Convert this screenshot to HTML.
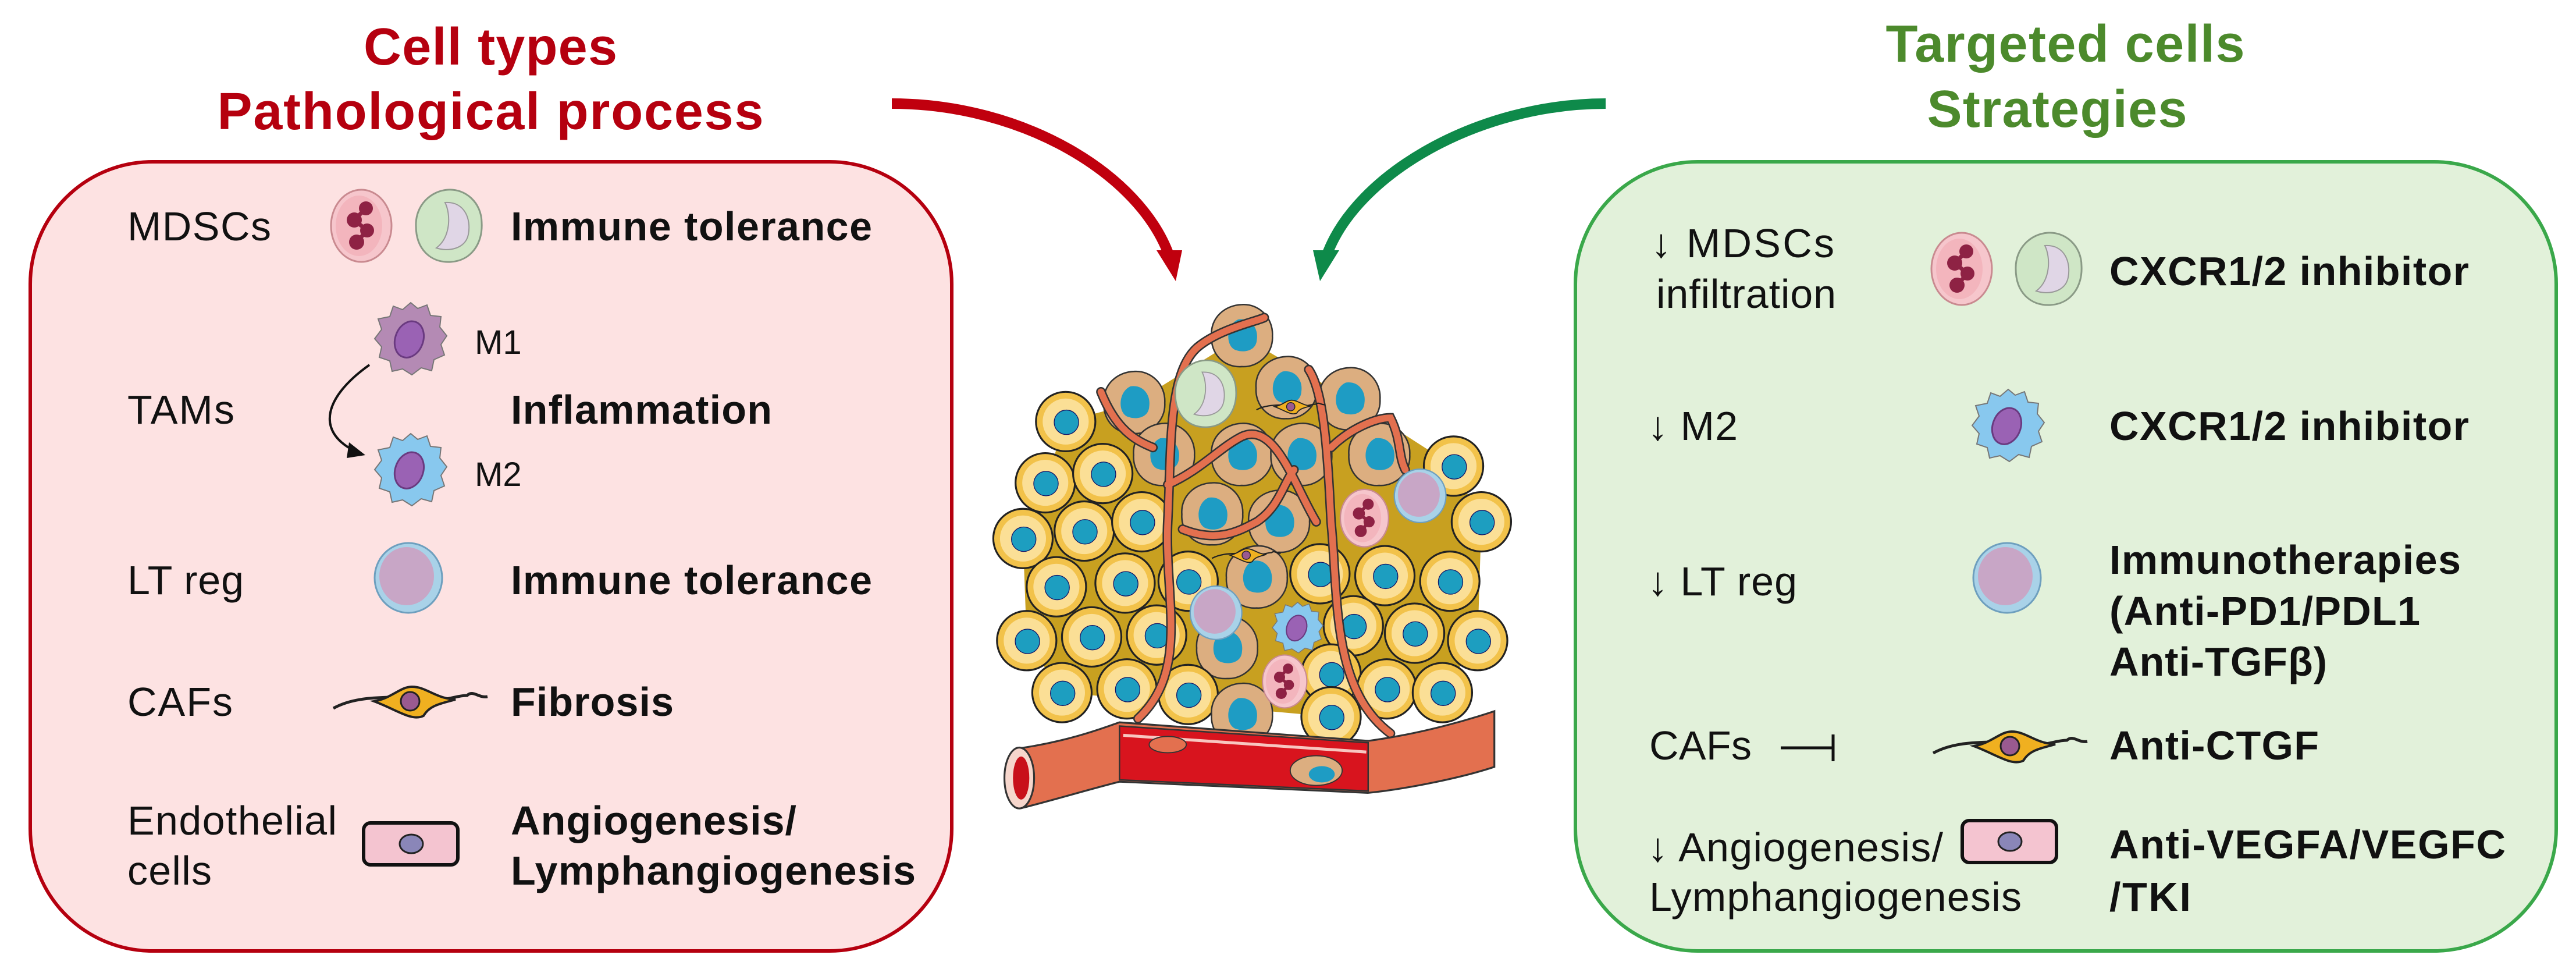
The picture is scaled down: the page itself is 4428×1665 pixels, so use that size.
<!DOCTYPE html>
<html><head><meta charset="utf-8"><style>
html,body{margin:0;padding:0;background:#fff;}
svg{display:block;}
text{font-family:"Liberation Sans",Arial,sans-serif;}
.n{font-size:70px;fill:#111;}
.b{font-size:70px;font-weight:bold;fill:#111;}
</style></head><body>
<svg width="4428" height="1665" viewBox="0 0 4428 1665" xmlns="http://www.w3.org/2000/svg">
<defs>
  <g id="neut">
    <ellipse cx="0" cy="0" rx="52" ry="62" fill="#f6c6cc" stroke="#c98a90" stroke-width="3"/>
    <ellipse cx="-4" cy="0" rx="40" ry="52" fill="#f3b5bd"/>
    <circle cx="8" cy="-30" r="12" fill="#8e2244"/><circle cx="-12" cy="-10" r="13" fill="#8e2244"/>
    <circle cx="10" cy="8" r="12" fill="#8e2244"/><circle cx="-8" cy="28" r="13" fill="#8e2244"/>
    <path d="M8,-30 L-12,-10 L10,8 L-8,28" stroke="#8e2244" stroke-width="7" fill="none"/>
  </g>
  <g id="mono">
    <path d="M0,-62 C30,-64 58,-40 58,-5 C60,30 40,60 5,62 C-30,64 -55,40 -55,0 C-56,-35 -30,-60 0,-62Z" fill="#cfe6c6" stroke="#8a9a86" stroke-width="3"/>
    <path d="M-5,-40 C30,-42 40,-10 35,15 C30,40 0,45 -20,38 C5,20 5,-20 -5,-40Z" fill="#e0d6e6" stroke="#999" stroke-width="2"/>
  </g>
  <g id="mac">
    <path d="M0,-62 L12,-52 L28,-58 L34,-40 L52,-38 L50,-20 L62,-5 L52,10 L58,28 L40,36 L36,55 L18,50 L2,62 L-14,52 L-32,56 L-36,38 L-54,32 L-50,14 L-62,0 L-50,-16 L-56,-34 L-36,-38 L-30,-56 L-14,-50Z" stroke="#777" stroke-width="2"/>
    <ellipse cx="-2" cy="2" rx="24" ry="32" transform="rotate(20)" fill="#9a62b4" stroke="#6a3a80" stroke-width="3"/>
  </g>
  <g id="treg">
    <ellipse cx="0" cy="0" rx="58" ry="60" fill="#a9d2e8" stroke="#6e9fbe" stroke-width="3"/>
    <ellipse cx="-3" cy="-3" rx="47" ry="50" fill="#c8a6c6"/>
  </g>
  <g id="caf">
    <path d="M-130,12 C-90,-10 -40,-5 -20,-8 C0,-25 25,-25 45,-5 C65,0 80,-10 100,-10 C110,-20 120,-5 135,-8" stroke="#222" stroke-width="5" fill="none"/>
    <path d="M-60,0 C-30,-5 -15,-25 5,-25 C30,-25 45,-5 80,-3 C50,5 35,8 25,25 C5,35 -20,15 -60,0Z" fill="#f0b020" stroke="#222" stroke-width="4"/>
    <circle cx="2" cy="0" r="16" fill="#9a5a90" stroke="#222" stroke-width="3"/>
  </g>
  <g id="endo">
    <rect x="-80" y="-36" width="162" height="72" rx="12" fill="#f4c4d0" stroke="#111" stroke-width="6"/>
    <ellipse cx="2" cy="0" rx="20" ry="16" fill="#8a86b8" stroke="#222" stroke-width="3"/>
  </g>
  <g id="ycell">
    <circle r="80" fill="#f2c24a" stroke="#222" stroke-width="5"/>
    <circle r="62" fill="#fbdf96"/>
    <circle cx="2" cy="2" r="33" fill="#1d9ec0" stroke="#116" stroke-width="2"/>
  </g>
  <g id="bcell">
    <path d="M0,-85 C45,-88 85,-50 82,0 C85,50 40,85 0,82 C-50,86 -85,45 -82,0 C-86,-50 -45,-84 0,-85Z" fill="#dcae80" stroke="#333" stroke-width="4"/>
    <path d="M-10,-45 C25,-50 45,-20 40,10 C38,40 5,45 -15,38 C-45,30 -45,-30 -10,-45Z" fill="#1e9cc4"/>
  </g>
</defs>

<!-- Titles -->
<text x="843" y="111" text-anchor="middle" font-size="90" font-weight="bold" fill="#b5000f" textLength="436">Cell types</text>
<text x="843" y="222" text-anchor="middle" font-size="90" font-weight="bold" fill="#b5000f" textLength="939">Pathological process</text>
<text x="3550" y="106" text-anchor="middle" font-size="90" font-weight="bold" fill="#4c8a2c" textLength="617">Targeted cells</text>
<text x="3536" y="218" text-anchor="middle" font-size="90" font-weight="bold" fill="#4c8a2c" textLength="447">Strategies</text>

<!-- Boxes -->
<rect x="52" y="278" width="1584" height="1356" rx="210" fill="#fde2e2" stroke="#b5000f" stroke-width="6"/>
<rect x="2708" y="278" width="1686" height="1356" rx="210" fill="#e2f1da" stroke="#3aa84a" stroke-width="6"/>

<!-- Arrows -->
<path d="M1533,178 C1760,178 1960,300 2010,440" stroke="#c0000e" stroke-width="18" fill="none"/>
<polygon points="1988,430 2032,430 2021,483" fill="#c0000e"/>
<path d="M2760,178 C2540,178 2330,300 2280,440" stroke="#0e8a4a" stroke-width="18" fill="none"/>
<polygon points="2257,430 2302,430 2269,483" fill="#0e8a4a"/>

<!-- Left content -->
<text class="n" x="219" y="413" textLength="247">MDSCs</text>
<use href="#neut" x="621" y="388"/>
<use href="#mono" x="770" y="388"/>
<text class="b" x="878" y="413" textLength="621">Immune tolerance</text>

<use href="#mac" x="706" y="582" fill="#b48ab4"/>
<text x="816" y="608" font-size="58" fill="#111">M1</text>
<text class="n" x="219" y="728" textLength="184">TAMs</text>
<path d="M635,627 C560,680 540,740 610,775" stroke="#111" stroke-width="4" fill="none"/>
<polygon points="600,760 628,782 596,787" fill="#111"/>
<text class="b" x="878" y="728" textLength="449">Inflammation</text>
<use href="#mac" x="706" y="807" fill="#88c8ee"/>
<text x="816" y="835" font-size="58" fill="#111">M2</text>

<text class="n" x="219" y="1021" textLength="200">LT reg</text>
<use href="#treg" x="702" y="993"/>
<text class="b" x="878" y="1021" textLength="621">Immune tolerance</text>

<text class="n" x="219" y="1230" textLength="181">CAFs</text>
<use href="#caf" x="703" y="1205"/>
<text class="b" x="878" y="1230" textLength="280">Fibrosis</text>

<text class="n" x="219" y="1434" textLength="360">Endothelial</text>
<text class="n" x="219" y="1520" textLength="145">cells</text>
<use href="#endo" x="705" y="1450"/>
<text class="b" x="878" y="1434" textLength="491">Angiogenesis/</text>
<text class="b" x="878" y="1520" textLength="696">Lymphangiogenesis</text>

<!-- Right content -->
<text class="n" x="2838" y="442" textLength="315">↓ MDSCs</text>
<text class="n" x="2847" y="529" textLength="309">infiltration</text>
<use href="#neut" x="3372" y="462"/>
<use href="#mono" x="3520" y="462"/>
<text class="b" x="3626" y="490" textLength="618">CXCR1/2 inhibitor</text>

<text class="n" x="2832" y="756" textLength="155">↓ M2</text>
<use href="#mac" x="3452" y="731" fill="#88c8ee"/>
<text class="b" x="3626" y="756" textLength="618">CXCR1/2 inhibitor</text>

<text class="n" x="2832" y="1023" textLength="257">↓ LT reg</text>
<use href="#treg" x="3450" y="993"/>
<text class="b" x="3626" y="986" textLength="604">Immunotherapies</text>
<text class="b" x="3626" y="1074" textLength="534">(Anti-PD1/PDL1</text>
<text class="b" x="3626" y="1161" textLength="374">Anti-TGFβ)</text>

<text class="n" x="2835" y="1305" textLength="176">CAFs</text>
<path d="M3061,1285 L3151,1285 M3151,1262 L3151,1308" stroke="#111" stroke-width="5"/>
<use href="#caf" x="3453" y="1282"/>
<text class="b" x="3626" y="1305" textLength="360">Anti-CTGF</text>

<text class="n" x="2832" y="1480" textLength="508">↓ Angiogenesis/</text>
<text class="n" x="2835" y="1565" textLength="640">Lymphangiogenesis</text>
<use href="#endo" x="3453" y="1446"/>
<text class="b" x="3626" y="1475" textLength="681">Anti-VEGFA/VEGFC</text>
<text class="b" x="3626" y="1565" textLength="140">/TKI</text>

<!-- Tumor (drawn in zoom coords) -->
<g transform="translate(1650,450) scale(0.638)">
  <path d="M285,430 L470,380 L760,200 L1050,370 L1330,550 L1405,700 L1395,1020 L1300,1160 L1000,1225 L275,1160 L180,1020 L170,745 L230,595 Z" fill="#c8a020"/>
  <use href="#bcell" x="760" y="200"/><use href="#bcell" x="470" y="380"/><use href="#bcell" x="880" y="340"/>
  <use href="#bcell" x="1050" y="370"/><use href="#bcell" x="550" y="520"/><use href="#bcell" x="760" y="520"/>
  <use href="#bcell" x="920" y="520"/><use href="#bcell" x="1130" y="520"/><use href="#bcell" x="680" y="680"/>
  <use href="#bcell" x="860" y="700"/><use href="#bcell" x="800" y="850"/><use href="#bcell" x="720" y="1040"/>
  <use href="#ycell" x="285" y="430"/><use href="#ycell" x="230" y="595"/><use href="#ycell" x="385" y="570"/>
  <use href="#ycell" x="170" y="745"/><use href="#ycell" x="335" y="725"/><use href="#ycell" x="490" y="700"/>
  <use href="#ycell" x="260" y="875"/><use href="#ycell" x="445" y="865"/><use href="#ycell" x="615" y="860"/>
  <use href="#ycell" x="180" y="1020"/><use href="#ycell" x="355" y="1010"/><use href="#ycell" x="530" y="1005"/>
  <use href="#ycell" x="275" y="1160"/><use href="#ycell" x="450" y="1150"/><use href="#ycell" x="615" y="1165"/>
  <use href="#ycell" x="1330" y="550"/><use href="#ycell" x="1405" y="700"/><use href="#ycell" x="1320" y="860"/>
  <use href="#ycell" x="1145" y="845"/><use href="#ycell" x="970" y="840"/><use href="#ycell" x="1060" y="980"/>
  <use href="#ycell" x="1225" y="1000"/><use href="#ycell" x="1395" y="1020"/><use href="#ycell" x="1000" y="1110"/>
  <use href="#ycell" x="1150" y="1150"/><use href="#ycell" x="1300" y="1160"/><use href="#ycell" x="1000" y="1225"/>
  <use href="#bcell" x="760" y="1220"/>
  <g stroke="#333" stroke-width="26" fill="none" stroke-linecap="round">
    <path d="M480,1230 C620,1100 550,900 560,700 C570,500 560,300 640,230 C700,180 800,160 820,150"/>
    <path d="M1160,1270 C1000,1150 1020,900 1000,700 C990,500 980,350 940,290"/>
    <path d="M560,600 C650,560 700,500 760,470 C850,430 900,600 960,700"/>
    <path d="M600,720 C700,760 760,720 800,700 C860,660 870,600 900,560"/>
    <path d="M380,350 C420,450 470,480 520,500"/>
    <path d="M1000,500 C1050,450 1120,420 1160,420 C1190,480 1180,520 1200,560"/>
  </g>
  <g stroke="#e3704f" stroke-width="18" fill="none" stroke-linecap="round">
    <path d="M480,1230 C620,1100 550,900 560,700 C570,500 560,300 640,230 C700,180 800,160 820,150"/>
    <path d="M1160,1270 C1000,1150 1020,900 1000,700 C990,500 980,350 940,290"/>
    <path d="M560,600 C650,560 700,500 760,470 C850,430 900,600 960,700"/>
    <path d="M600,720 C700,760 760,720 800,700 C860,660 870,600 900,560"/>
    <path d="M380,350 C420,450 470,480 520,500"/>
    <path d="M1000,500 C1050,450 1120,420 1160,420 C1190,480 1180,520 1200,560"/>
  </g>
  <g transform="translate(660,355) scale(1.45)"><use href="#mono"/></g>
  <g transform="translate(1090,690) scale(1.25)"><use href="#neut"/></g>
  <g transform="translate(875,1130) scale(1.15)"><use href="#neut"/></g>
  <g transform="translate(1240,630) scale(1.2)"><use href="#treg"/></g>
  <g transform="translate(690,945) scale(1.2)"><use href="#treg"/></g>
  <g transform="translate(910,985) scale(1.1)"><use href="#mac" fill="#88c8ee"/></g>
  <g transform="translate(890,390) scale(0.7)"><use href="#caf"/></g>
  <g transform="translate(770,790) scale(0.7)"><use href="#caf"/></g>
  <!-- blood vessel -->
  <path d="M160,1310 C300,1290 400,1250 430,1240 L1100,1290 C1250,1270 1380,1230 1440,1210 L1440,1360 C1350,1390 1200,1420 1100,1430 L430,1400 C350,1420 250,1450 170,1470 Z" fill="#e3704f" stroke="#333" stroke-width="5"/>
  <path d="M430,1250 L1100,1295 L1100,1425 L430,1395 Z" fill="#d8141e" stroke="#333" stroke-width="4"/>
  <path d="M440,1275 L1095,1320" stroke="#f8c6c0" stroke-width="8"/>
  <ellipse cx="160" cy="1390" rx="40" ry="82" fill="#f6d6cc" stroke="#333" stroke-width="5"/>
  <ellipse cx="165" cy="1390" rx="22" ry="58" fill="#c8101a"/>
  <ellipse cx="560" cy="1300" rx="50" ry="22" fill="#e3704f" stroke="#333" stroke-width="3"/>
  <ellipse cx="960" cy="1370" rx="70" ry="40" fill="#dcae80" stroke="#333" stroke-width="3"/>
  <ellipse cx="975" cy="1380" rx="35" ry="22" fill="#1e9cc4"/>
</g>
</svg>
</body></html>
